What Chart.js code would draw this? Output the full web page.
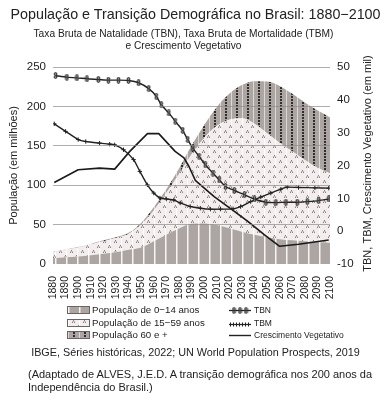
<!DOCTYPE html>
<html><head><meta charset="utf-8">
<script src="https://cdn.jsdelivr.net/npm/chart.js@4.4.0/dist/chart.umd.min.js"></script>
<style>
html,body{margin:0;padding:0;background:#fff;}
#wrap{position:relative;width:391px;height:400px;overflow:hidden;font-family:"Liberation Sans",Arial,sans-serif;color:#222;}
#c{position:absolute;left:0;top:0;}
.t{position:absolute;white-space:nowrap;line-height:1;}
.sw{position:absolute;width:21px;height:6px;border:1px solid #6a6464;}
.ic{position:absolute;}
</style></head><body>
<div id="wrap">
<canvas id="c" width="391" height="400"></canvas>
<div class="t" style="left:0;width:391px;text-align:center;top:6.9px;font-size:14.3px;">População e Transição Demográfica no Brasil: 1880−2100</div>
<div class="t" style="left:-12px;width:391px;text-align:center;top:28.7px;font-size:10.2px;">Taxa Bruta de Natalidade (TBN), Taxa Bruta de Mortalidade (TBM)</div>
<div class="t" style="left:-12px;width:391px;text-align:center;top:40.7px;font-size:10.2px;">e Crescimento Vegetativo</div>

<div class="sw" id="sw1" style="left:67px;top:305.5px;"></div>
<div class="sw" id="sw2" style="left:67px;top:319px;"></div>
<div class="sw" id="sw3" style="left:67px;top:331px;"></div>
<div class="t" style="left:92px;top:305.3px;font-size:9.7px;">População de 0−14 anos</div>
<div class="t" style="left:92px;top:317.8px;font-size:9.7px;">População de 15−59 anos</div>
<div class="t" style="left:92px;top:330.3px;font-size:9.7px;">População 60 e +</div>
<canvas class="ic" id="ic1" width="22" height="9" style="left:229px;top:306px;"></canvas>
<canvas class="ic" id="ic2" width="22" height="9" style="left:229px;top:319.5px;"></canvas>
<canvas class="ic" id="ic3" width="22" height="9" style="left:229px;top:330.5px;"></canvas>
<div class="t" style="left:254px;top:306.3px;font-size:8.5px;">TBN</div>
<div class="t" style="left:254px;top:319.3px;font-size:8.5px;">TBM</div>
<div class="t" style="left:254px;top:331px;font-size:8.5px;">Crescimento Vegetativo</div>

<div class="t" style="left:0;width:391px;text-align:center;top:347.4px;font-size:10.8px;">IBGE, Séries históricas, 2022; UN World Population Prospects, 2019</div>
<div class="t" style="left:28px;top:368.7px;font-size:11px;">(Adaptado de ALVES, J.E.D. A transição demográfica nos 200 anos da</div>
<div class="t" style="left:28px;top:382.2px;font-size:11px;">Independência do Brasil.)</div>
</div>
<script>
// ---- data ----
const decades = ['1880','1890','1900','1910','1920','1930','1940','1950','1960','1970','1980','1990','2000','2010','2020','2030','2040','2050','2060','2070','2080','2090','2100'];
const pop0_14  = [7.5, 8.5, 9.5, 11, 13, 15, 18, 21, 29, 37, 45, 51, 51.5, 49.5, 45.5, 41, 37, 34, 31.5, 30, 29, 28, 27];
const pop15_59 = [7.5, 9.5, 11.5, 14, 16, 18, 20, 29, 39, 53, 69, 88, 108.5, 125.5, 137.5, 144, 141, 132, 122.5, 113, 103, 94, 88];
const pop60    = [0.5, 0.5, 0.5, 0.5, 1, 1, 1.5, 2, 4, 5, 7, 11, 16, 24, 33, 42, 54, 65.5, 72, 73, 73, 73, 71];

const tbnYears = [1882,1891,1899,1907,1916,1924,1932,1940,1948,1956,1962,1966,1972,1977,1983,1987,1991,1996,2001,2007,2012,2017,2024,2032,2040,2049,2057,2065,2074,2082,2091,2099];
const tbnVals  = [47.4,46.9,46.7,46.4,46.2,46.0,46.0,45.9,45.2,43.4,41.1,38.5,36.0,33.5,30.7,27.9,25.3,22.8,20.2,17.7,15.6,13.6,12.4,11.1,9.8,8.8,8.7,8.8,8.8,9.0,9.3,9.8];
const tbmYears = [1881,1890,1900,1906,1917,1925,1929,1936,1944,1949,1955,1960,1965,1970,1976,1981,1989,1997,2005,2013,2023,2029,2037,2045,2053,2061,2066,2075,2088,2099];
const tbmVals  = [32.7,30.4,27.9,27.3,26.8,26.5,26.3,24.8,21.8,18.2,14.1,11.6,10.1,9.8,9.5,8.6,7.5,7.0,6.7,6.7,6.8,7.5,9.0,10.4,11.6,12.8,13.4,13.3,13.2,13.1];
const cvYears  = [1881,1900,1917,1929,1941,1955,1964,1977,1984,1988,1993,2008,2024,2035,2048,2060,2075,2099];
const cvVals   = [14.8,18.7,19.2,18.9,24.3,29.7,29.7,24.3,22.3,19.7,15.5,10.5,6.0,2.9,-1.1,-4.6,-4.0,-2.7];

const leftTicks = [0, 50, 100, 150, 200, 250];
const rightTicks = [-10, 0, 10, 20, 30, 40, 50];

// ---- patterns ----
function tile(w,h,draw){const c=document.createElement('canvas');c.width=w;c.height=h;const g=c.getContext('2d');draw(g);return c;}
const GRAY='#aca5a1';
const t014 = tile(11,1,g=>{g.fillStyle=GRAY;g.fillRect(0,0,11,1);g.fillStyle='#f6f4f4';g.fillRect(0,0,1,1);g.fillStyle='#d2cdca';g.fillRect(1,0,1,1);});
const t1559 = tile(22,10,g=>{g.fillStyle='#f3eded';g.fillRect(0,0,22,10);g.fillStyle='#ffffff';g.fillRect(0,0,1,10);g.fillRect(11,0,1,10);
  [[4,0],[15,0],[9,5],[20,5]].forEach(p=>{
    const x=p[0],y=p[1];
    g.fillStyle='#8a8282';g.fillRect((x+1)%22,y,1,1);g.fillRect(x,y+2,1,1);g.fillRect((x+2)%22,y+2,1,1);
    g.fillStyle='#c4bcbc';g.fillRect((x+1)%22,y+1,1,1);g.fillRect(x,y+1,1,1);g.fillRect((x+2)%22,y+1,1,1);
  });});
const t60 = tile(11,3,g=>{g.fillStyle=GRAY;g.fillRect(0,0,11,3);g.fillStyle='#dcd8d6';g.fillRect(0,0,1,3);g.fillStyle='#2e2e2e';g.fillRect(5,0,2,2);});

const canvas=document.getElementById('c');
const ctx=canvas.getContext('2d');
const pat014=ctx.createPattern(t014,'repeat');
const pat1559=ctx.createPattern(t1559,'repeat');
const pat60=ctx.createPattern(t60,'repeat');

// TBN marker (small "8" shape)
const tbnMarker = tile(5,7,g=>{g.strokeStyle='#1e1e1e';g.fillStyle='#9a9494';g.lineWidth=0.9;
  g.beginPath();g.arc(2.5,2.0,1.4,0,Math.PI*2);g.fill();g.stroke();
  g.beginPath();g.arc(2.5,5.0,1.4,0,Math.PI*2);g.fill();g.stroke();});

// legend swatches
document.getElementById('sw1').style.background='url('+t014.toDataURL()+')';
document.getElementById('sw2').style.background='url('+t1559.toDataURL()+')';
document.getElementById('sw3').style.background='url('+t60.toDataURL()+')';
(function(){
  let g=document.getElementById('ic1').getContext('2d');
  g.strokeStyle='#222';g.lineWidth=1.3;g.beginPath();g.moveTo(0,4.5);g.lineTo(22,4.5);g.stroke();
  [5,11,17].forEach(x=>g.drawImage(tbnMarker,x-2.5,1));
  g=document.getElementById('ic2').getContext('2d');
  g.strokeStyle='#222';g.lineWidth=1.2;g.beginPath();g.moveTo(0,4.5);g.lineTo(22,4.5);g.stroke();
  g.lineWidth=1;for(let x=1.5;x<22;x+=3){g.beginPath();g.moveTo(x,2.5);g.lineTo(x,6.5);g.stroke();}
  g=document.getElementById('ic3').getContext('2d');
  g.strokeStyle='#222';g.lineWidth=1.4;g.beginPath();g.moveTo(0,4.5);g.lineTo(22,4.5);g.stroke();
})();

const FONT="'Liberation Sans', Arial, sans-serif";
Chart.defaults.font.family=FONT;
Chart.defaults.color='#222';

const rightTitle={id:'rightTitle',afterDraw(chart){const c=chart.ctx;c.save();c.translate(367.5,163.5);c.rotate(-Math.PI/2);
  c.font='11px '+FONT;c.fillStyle='#222';c.textAlign='center';c.textBaseline='middle';
  c.fillText('TBN, TBM, Crescimento Vegetativo (em mil)',0,0);c.restore();}};

const xy=(xs,ys)=>xs.map((x,i)=>({x:x,y:ys[i]}));

new Chart(canvas,{
  type:'line',
  data:{
    labels:decades,
    datasets:[
      {label:'População de 0−14 anos',data:pop0_14,backgroundColor:pat014,borderWidth:0,pointRadius:0,fill:'origin',cubicInterpolationMode:'monotone',order:1,xAxisID:'x',yAxisID:'y'},
      {label:'População de 15−59 anos',data:pop15_59,backgroundColor:pat1559,borderWidth:0,pointRadius:0,fill:'-1',cubicInterpolationMode:'monotone',order:1,xAxisID:'x',yAxisID:'y'},
      {label:'População 60 e +',data:pop60,backgroundColor:pat60,borderWidth:0,pointRadius:0,fill:'-1',cubicInterpolationMode:'monotone',order:1,xAxisID:'x',yAxisID:'y'},
      {label:'TBN',data:xy(tbnYears,tbnVals),borderColor:'#222',borderWidth:1.4,pointStyle:tbnMarker,pointRadius:3,fill:false,tension:0.2,order:0,xAxisID:'x2',yAxisID:'y2'},
      {label:'TBM',data:xy(tbmYears,tbmVals),borderColor:'#222',borderWidth:1.4,pointStyle:'cross',pointRadius:2.2,pointBorderWidth:1,pointBorderColor:'#222',fill:false,tension:0.2,order:0,xAxisID:'x2',yAxisID:'y2'},
      {label:'Crescimento Vegetativo',data:xy(cvYears,cvVals),borderColor:'#1a1a1a',borderWidth:1.6,pointRadius:0,fill:false,tension:0,order:0,xAxisID:'x2',yAxisID:'y2'}
    ]
  },
  options:{
    responsive:false,animation:false,devicePixelRatio:1,
    layout:{padding:{left:0,top:67,right:0,bottom:96}},
    plugins:{legend:{display:false},tooltip:{enabled:false},title:{display:false}},
    elements:{line:{borderJoinStyle:'round'}},
    scales:{
      x:{type:'category',position:'bottom',offset:false,
        grid:{display:false},border:{display:false},
        ticks:{autoSkip:false,minRotation:90,maxRotation:90,padding:4,font:{size:10.5},color:'#222'},
        afterFit(s){s.height=40;}},
      x2:{type:'linear',display:false,min:1880,max:2100},
      y:{type:'linear',position:'left',stacked:true,min:0,max:250,
        afterBuildTicks(s){s.ticks=leftTicks.map(v=>({value:v}));},
        grid:{drawTicks:false,z:1,lineWidth:1,color:c=>c.tick&&c.tick.value===0?'rgba(0,0,0,0)':'rgba(140,140,140,0.7)'},
        border:{display:false},
        ticks:{padding:7,font:{size:11.5},color:'#222'},
        title:{display:true,text:'População (em milhões)',font:{size:11},color:'#222',padding:{top:7.5,bottom:0}},
        afterFit(s){s.width=53;}},
      y2:{type:'linear',position:'right',min:-10,max:50,
        afterBuildTicks(s){s.ticks=rightTicks.map(v=>({value:v}));},
        grid:{display:false,drawTicks:false},border:{display:false},
        ticks:{padding:7,font:{size:11.5},color:'#222'},
        afterFit(s){s.width=61;}}
    }
  },
  plugins:[rightTitle]
});
</script>
</body></html>
